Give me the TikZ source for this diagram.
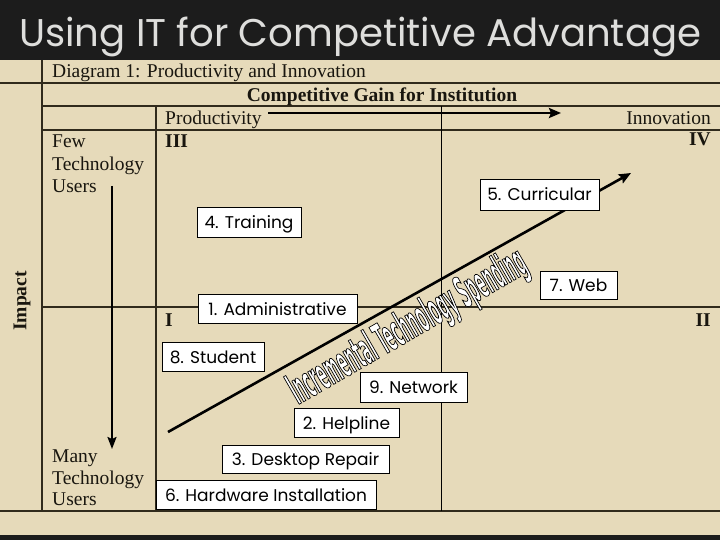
\documentclass[tikz,border=0pt]{standalone}
\usepackage{fontspec}
\setmainfont{Liberation Serif}
\newfontfamily\wafont[FakeStretch=0.3]{DejaVu Sans}
\newfontfamily\gothic{Poppins}
\usepackage{graphicx}
\usetikzlibrary{arrows.meta}
\newcommand{\watext}{\resizebox{268pt}{33pt}{\wafont\bfseries\fontsize{41}{44}\selectfont
  \textcolor{white}{\special{pdf:literal direct 0 G 2 Tr 0.6 w}Incremental Technology Spending\special{pdf:literal direct 0 Tr}}}}
\definecolor{panel}{RGB}{230,218,186}
\definecolor{bgdark}{RGB}{28,28,28}
\definecolor{gridc}{RGB}{48,42,28}
\definecolor{titlec}{RGB}{222,222,220}
\definecolor{txt}{RGB}{25,22,15}
\begin{document}
\begin{tikzpicture}[x=1pt,y=-1pt,
  grid/.style={draw=gridc,line width=1.1pt},
  lbl/.style={font=\fontsize{19.5}{22}\selectfont, inner sep=0pt, text=txt},
  blbl/.style={lbl, font=\fontsize{19.5}{22}\selectfont\bfseries},
  bx/.style={draw=black, line width=0.9pt, fill=white, inner sep=0pt,
    font=\gothic\fontsize{17}{20}\selectfont, text height=13pt, text depth=0pt},
  arr/.style={-{Stealth[length=12pt,width=10pt,inset=2pt]}, line width=2.6pt, draw=black},
  wa/.style={anchor=base west, inner sep=0pt, rotate=30}]
\fill[bgdark] (0,0) rectangle (720,540);
\useasboundingbox (0,0) rectangle (720,540);
\fill[panel] (0,60) rectangle (720,535);
% grid
\draw[grid] (0,83) -- (720,83);
\draw[grid] (0,511) -- (720,511);
\draw[grid] (42,60) -- (42,511);
\draw[grid] (42,106) -- (720,106);
\draw[grid] (42,130) -- (720,130);
\draw[grid] (42,307) -- (720,307);
\draw[grid] (156,106) -- (156,511);
\draw[draw=black,line width=1pt] (441,106) -- (441,511);
% title
\node[anchor=base west, inner sep=0pt, text=titlec] (title) at (19,47)
  {\resizebox{682pt}{!}{\gothic\fontsize{40}{44}\selectfont Using IT for Competitive Advantage}};
% header texts
\node[lbl, anchor=base west] (diag) at (52,78) {Diagram 1: Productivity and Innovation};
\node[blbl, anchor=base] (gain) at (382,102) {Competitive Gain for Institution};
\node[lbl, anchor=base west] (prod) at (165,125) {Productivity};
\node[lbl, anchor=base east] (innov) at (711,125) {Innovation};
\node[blbl, anchor=base west] (q3) at (165,148) {III};
\node[blbl, anchor=base east] (q4) at (711,146) {IV};
\node[blbl, anchor=base west] (q1) at (165,326) {I};
\node[blbl, anchor=base east] (q2) at (711,326) {II};
\node[lbl, anchor=base west] (few1) at (52,148) {Few};
\node[lbl, anchor=base west] (few2) at (52,171) {Technology};
\node[lbl, anchor=base west] (few3) at (52,193) {Users};
\node[lbl, anchor=base west] (many1) at (52,462) {Many};
\node[lbl, anchor=base west] (many2) at (52,484) {Technology};
\node[lbl, anchor=base west] (many3) at (52,505) {Users};
\node[blbl, rotate=90] (impact) at (22,301) {Impact};
% arrows
\coordinate (p0) at (268,113);
\coordinate (p1) at (561,113);
\draw[arr] (p0) -- (p1);
\coordinate (v0) at (112,186);
\coordinate (v1) at (112,449);
\draw[arr, line width=2pt, -{Stealth[length=12pt,width=9pt,inset=2pt]}] (v0) -- (v1);
% word art
\node[wa] (wa) at (298,405) {\watext};
\coordinate (d0) at (168,432);
\coordinate (d1) at (631,173);
\draw[arr] (d0) -- (d1);
% boxes
\node[bx, minimum width=119pt, minimum height=31pt] (b5) at (539.5,194.5) {5. Curricular};
\node[bx, minimum width=104pt, minimum height=30pt] (b4) at (249,222) {4. Training};
\node[bx, minimum width=77pt, minimum height=28pt] (b7) at (578.5,285) {7. Web};
\node[bx, minimum width=159pt, minimum height=29pt] (b1) at (277.5,308.5) {1. Administrative};
\node[bx, minimum width=102pt, minimum height=29pt] (b8) at (213,356.5) {8. Student};
\node[bx, minimum width=107pt, minimum height=30pt] (b9) at (413.5,387) {9. Network};
\node[bx, minimum width=105pt, minimum height=29pt] (b2) at (346.5,422.5) {2. Helpline};
\node[bx, minimum width=167pt, minimum height=28pt] (b3) at (305.5,459) {3. Desktop Repair};
\node[bx, minimum width=220pt, minimum height=29pt] (b6) at (266,494.5) {6. Hardware Installation};
\end{tikzpicture}
\end{document}
